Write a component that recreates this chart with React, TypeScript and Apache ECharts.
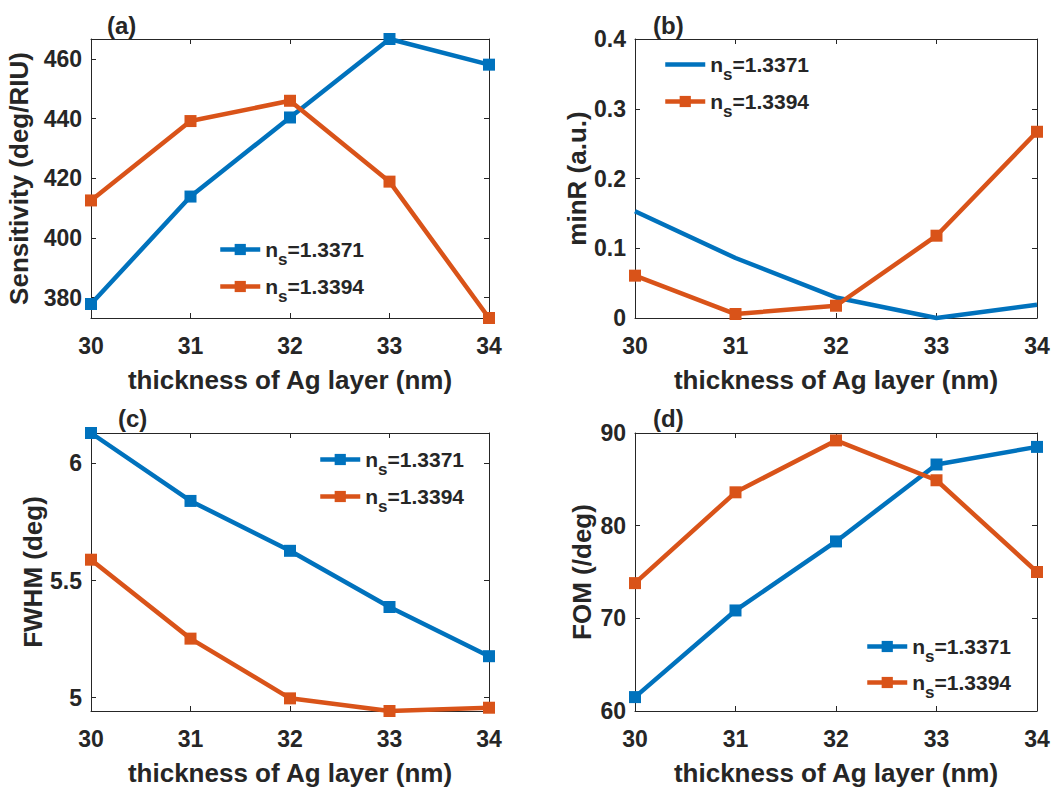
import React, { useEffect, useRef } from 'react';
import * as echarts from 'echarts';

// ---- data ----
const thickness = [30, 31, 32, 33, 34];
const xTicks = [30, 31, 32, 33, 34];

const sens1371 = [377.9, 413.9, 440.4, 466.7, 458.1];
const sens1394 = [412.6, 439.2, 446.0, 418.9, 373.2];
const sensTicks = [380, 400, 420, 440, 460];

const minR1371 = [0.153, 0.086, 0.0295, 0.0, 0.019];
const minR1394 = [0.0607, 0.0057, 0.0176, 0.118, 0.267];
const minRTicks = [0, 0.1, 0.2, 0.3, 0.4];

const fwhm1371 = [6.13, 5.84, 5.627, 5.387, 5.177];
const fwhm1394 = [5.589, 5.252, 4.997, 4.943, 4.957];
const fwhmTicks = [5, 5.5, 6];

const fom1371 = [61.5, 70.85, 78.3, 86.6, 88.5];
const fom1394 = [73.8, 83.6, 89.2, 84.9, 75.0];
const fomTicks = [60, 70, 80, 90];

const legendValues = ['=1.3371', '=1.3394'];
const panelLabels = ['(a)', '(b)', '(c)', '(d)'];
const yNames = ['Sensitivity (deg/RIU)', 'minR (a.u.)', 'FWHM (deg)', 'FOM (/deg)'];
const xName = 'thickness of Ag layer (nm)';

// ---- styling ----
const BLUE = '#0072BD';
const ORANGE = '#D95319';
const TEXT = '#262626';
const AXIS = '#262626';
const FONT = '"Liberation Sans", Arial, sans-serif';

const lo = (a: number[], b: number[]) => Math.min(...a, ...b);
const hi = (a: number[], b: number[]) => Math.max(...a, ...b);

const panels = [
  {
    s1: sens1371, s2: sens1394, ticks: sensTicks,
    yMin: lo(sens1371, sens1394), yMax: hi(sens1371, sens1394),
    grid: { left: 91, top: 39, width: 398, height: 279 },
    yNameGap: 59, legend: { left: 218, y1: 250, y2: 287 }, label: [107, 25], blueSymbol: true,
  },
  {
    s1: minR1371, s2: minR1394, ticks: minRTicks, yMin: 0, yMax: 0.4,
    grid: { left: 635, top: 39, width: 402, height: 279 },
    yNameGap: 45, legend: { left: 663, y1: 65, y2: 102 }, label: [653, 25], blueSymbol: false,
  },
  {
    s1: fwhm1371, s2: fwhm1394, ticks: fwhmTicks,
    yMin: lo(fwhm1371, fwhm1394), yMax: hi(fwhm1371, fwhm1394),
    grid: { left: 91, top: 433, width: 398, height: 279 },
    yNameGap: 45, legend: { left: 318, y1: 460, y2: 497 }, label: [118, 418], blueSymbol: true,
  },
  {
    s1: fom1371, s2: fom1394, ticks: fomTicks, yMin: 60, yMax: 90,
    grid: { left: 635, top: 433, width: 402, height: 279 },
    yNameGap: 40, legend: { left: 865, y1: 647, y2: 683 }, label: [653, 418], blueSymbol: true,
  },
];

const tickLabelStyle = { fontSize: 23, fontWeight: 'bold' as const, fontFamily: FONT, color: TEXT };
const nameStyle = { fontSize: 26, fontWeight: 'bold' as const, fontFamily: FONT, color: TEXT };
const lineAxis = { show: true, onZero: false, lineStyle: { color: AXIS, width: 1 } };

const rich = {
  n: { fontSize: 21, fontWeight: 'bold' as const, fontFamily: FONT, color: TEXT, lineHeight: 24 },
  s: { fontSize: 17, fontWeight: 'bold' as const, fontFamily: FONT, color: TEXT, lineHeight: 24, padding: [20, 0, 0, 0] },
};

export default function App() {
  const ref = useRef<HTMLDivElement>(null);
  useEffect(() => {
    if (!ref.current) return;
    const chart = echarts.init(ref.current, undefined, { renderer: 'svg' });

    const grid: any[] = [];
    const xAxis: any[] = [];
    const yAxis: any[] = [];
    const series: any[] = [];
    const legend: any[] = [];
    const graphic: any[] = [];

    panels.forEach((p, i) => {
      grid.push({ ...p.grid });
      xAxis.push({
        gridIndex: i, type: 'value', min: 30, max: 34, interval: 1, position: 'bottom',
        name: xName, nameLocation: 'middle', nameGap: 49, nameTextStyle: nameStyle,
        axisLine: lineAxis, axisTick: { inside: true, length: 5, lineStyle: { color: AXIS } },
        axisLabel: { ...tickLabelStyle, margin: 16, customValues: xTicks }, splitLine: { show: false },
      });
      xAxis.push({
        gridIndex: i, type: 'value', min: 30, max: 34, interval: 1, position: 'top',
        axisLine: lineAxis, axisTick: { inside: true, length: 5, lineStyle: { color: AXIS } },
        axisLabel: { show: false }, splitLine: { show: false },
      });
      yAxis.push({
        gridIndex: i, type: 'value', min: p.yMin, max: p.yMax, position: 'left',
        name: yNames[i], nameLocation: 'middle', nameGap: p.yNameGap, nameTextStyle: nameStyle,
        axisLine: lineAxis, axisTick: { inside: true, length: 5, lineStyle: { color: AXIS }, customValues: p.ticks },
        axisLabel: { ...tickLabelStyle, margin: 9, customValues: p.ticks }, splitLine: { show: false },
      });
      yAxis.push({
        gridIndex: i, type: 'value', min: p.yMin, max: p.yMax, position: 'right',
        axisLine: lineAxis, axisTick: { inside: true, length: 5, lineStyle: { color: AXIS }, customValues: p.ticks },
        axisLabel: { show: false }, splitLine: { show: false },
      });

      const n1 = `p${i}-1371`;
      const n2 = `p${i}-1394`;
      series.push({
        type: 'line', name: n1, xAxisIndex: 2 * i, yAxisIndex: 2 * i,
        data: thickness.map((x, j) => [x, p.s1[j]]),
        symbol: p.blueSymbol ? 'rect' : 'none', symbolSize: 12, showSymbol: p.blueSymbol,
        lineStyle: { width: 4.5, color: BLUE }, itemStyle: { color: BLUE }, clip: false, z: 3,
      });
      series.push({
        type: 'line', name: n2, xAxisIndex: 2 * i, yAxisIndex: 2 * i,
        data: thickness.map((x, j) => [x, p.s2[j]]),
        symbol: 'rect', symbolSize: 12,
        lineStyle: { width: 4.5, color: ORANGE }, itemStyle: { color: ORANGE }, clip: false, z: 4,
      });

      const fmt = (name: string) =>
        `{n|n}{s|s}{n|${name.endsWith('1371') ? legendValues[0] : legendValues[1]}}`;
      const item1: any = p.blueSymbol ? { name: n1 } : { name: n1, itemStyle: { opacity: 0 } };
      const common = {
        left: p.legend.left, padding: 0, itemWidth: 40, itemHeight: 14, itemGap: 0,
        formatter: fmt, textStyle: { rich }, selectedMode: false, lineStyle: { width: 4.5 },
      };
      legend.push({ ...common, data: [item1], top: p.legend.y1 - 19 });
      legend.push({ ...common, data: [n2], top: p.legend.y2 - 19 });

      graphic.push({
        type: 'text', x: p.label[0], y: p.label[1],
        style: { text: panelLabels[i], font: `bold 24px ${FONT}`, fill: TEXT, verticalAlign: 'middle' },
      });
    });

    chart.setOption({
      animation: false,
      backgroundColor: '#ffffff',
      grid, xAxis, yAxis, series, legend, graphic,
    });
    return () => chart.dispose();
  }, []);

  return (
    <div
      ref={ref}
      style={{ position: 'fixed', left: 0, top: 0, width: 1064, height: 787, background: '#fff' }}
    />
  );
}
